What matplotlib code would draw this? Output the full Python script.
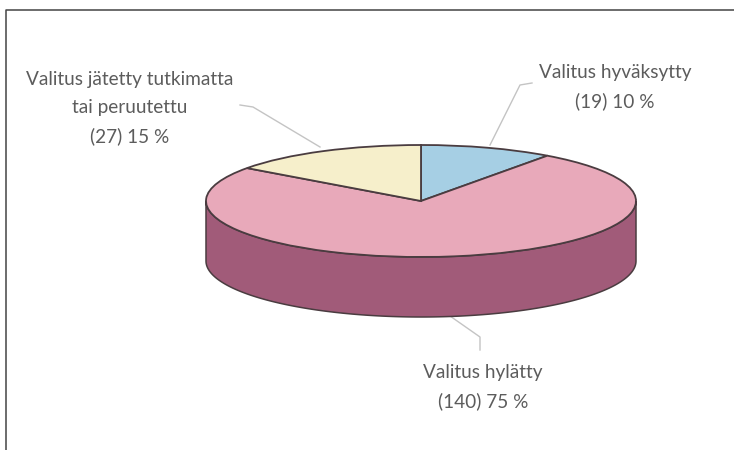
"""Valitusten jakauma: kolmiulotteinen ympyräkaavio."""

import matplotlib

matplotlib.use("Agg")

import matplotlib.pyplot as plt
import numpy as np
from matplotlib.patches import PathPatch, Wedge
from matplotlib.path import Path
from matplotlib.transforms import Affine2D

# shares in percent, clockwise from twelve o'clock
labels = ["Valitus hyväksytty\n(19) 10 %", "Valitus hylätty\n(140) 75 %",
          "Valitus jätetty tutkimatta\ntai peruutettu\n(27) 15 %"]
shares = [10, 75, 15]
colors = ["#a6cfe4", "#e8a9ba", "#f6efcb"]
side_color = "#a15b79"
edge_color = "#4a3c40"
line_color = "#c4c4c4"
text_color = "#5c5c5c"

label_pos = [(615, 87), (483, 387), (130, 108)]
leader_lines = [
    ([490, 520, 532], [145, 85, 83]),
    ([450, 480, 480], [316, 337, 350]),
    ([320, 253, 240], [147, 107, 105]),
]

W, H = 734, 450
CX, CY = 421, 201
RX, RY = 215, 56
DEPTH = 60


def draw_side(ax):
    # front half of the rim, top arc down and bottom arc back
    t = np.linspace(np.pi, 2 * np.pi, 200)
    x = CX + RX * np.cos(t)
    y = CY - RY * np.sin(t)
    verts = np.concatenate([
        np.column_stack([x, y]),
        np.column_stack([x[::-1], y[::-1] + DEPTH]),
        [[x[0], y[0]]],
    ])
    codes = [Path.MOVETO] + [Path.LINETO] * (len(verts) - 2) + [Path.CLOSEPOLY]
    ax.add_patch(PathPatch(Path(verts, codes), facecolor=side_color,
                           edgecolor=edge_color, linewidth=1.1, zorder=2))


def draw_top(ax):
    # the y axis is flipped, so wedge angles run clockwise from +x
    squash = Affine2D().scale(1, RY / RX).translate(CX, CY) + ax.transData
    start = -90.0
    for share, color in zip(shares, colors):
        end = start + share * 3.6
        ax.add_patch(Wedge((0, 0), RX, start, end, facecolor=color,
                           edgecolor=edge_color, linewidth=1.3,
                           transform=squash, zorder=3))
        start = end


def main():
    plt.rcParams["font.family"] = ["Lato", "DejaVu Sans"]
    fig = plt.figure(figsize=(W / 100, H / 100), dpi=100)
    ax = fig.add_axes([0, 0, 1, 1])
    ax.set_xlim(0, W)
    ax.set_ylim(H, 0)
    ax.axis("off")

    # open frame: only the top and left rules are in the picture
    ax.plot([5.5, 5.5, W], [H, 10, 10], color="#444444", linewidth=1.1, zorder=1)

    for xs, ys in leader_lines:
        ax.plot(xs, ys, color=line_color, linewidth=1.0, zorder=1)

    draw_side(ax)
    draw_top(ax)

    for text, (x, y) in zip(labels, label_pos):
        ax.text(x, y, text, ha="center", va="center", fontsize=13.7,
                color=text_color, linespacing=1.75)

    fig.savefig("out.png", dpi=100)
    plt.close(fig)


if __name__ == "__main__":
    main()
